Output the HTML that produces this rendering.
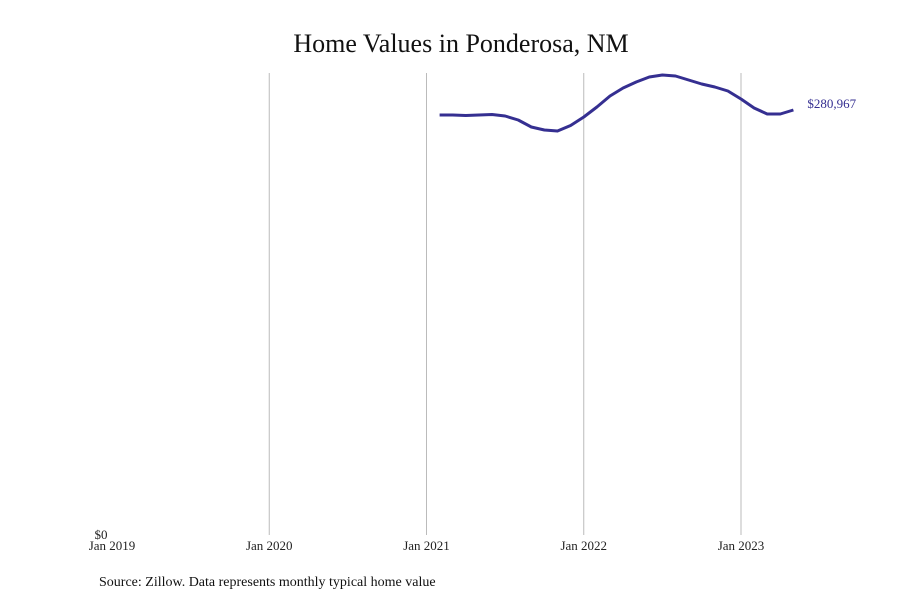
<!DOCTYPE html>
<html><head><meta charset="utf-8"><style>
body{margin:0;background:#fff;}
svg text{font-family:"Liberation Serif",serif;}
</style></head><body>
<svg width="900" height="600" xmlns="http://www.w3.org/2000/svg">
<text x="461" y="52" text-anchor="middle" font-size="26" fill="#111">Home Values in Ponderosa, NM</text>
<g id="grid"></g>
<g id="xticks"></g>
<text x="101" y="539" text-anchor="middle" font-size="13" fill="#222">$0</text>
<path id="line" fill="none" stroke="#352f91" stroke-width="3" stroke-linejoin="round"/>
<text id="endlabel" font-size="13" fill="#352f91"></text>
<text x="99" y="586" font-size="14" fill="#111">Source: Zillow. Data represents monthly typical home value</text>
</svg>
<script>
const tickLabels=["Jan 2019","Jan 2020","Jan 2021","Jan 2022","Jan 2023"];
const startMonth=25; // months after Jan 2019 (Feb 2021)
const values=[277662,277662,277331,277662,277993,277001,274357,269729,267746,267077,270720,276340,282951,290223,295512,299478,302784,304106,303445,300801,298156,296173,293528,288240,282290,278323,278323,280967];
const latestLabel="$280,967";
const x=m=>112+m*(741-112)/48;
const y=v=>535-v*(425/280967);
const ns="http://www.w3.org/2000/svg";
const grid=document.getElementById('grid'),xt=document.getElementById('xticks');
tickLabels.forEach((t,i)=>{
  const xx=x(i*12);
  if(i>0){const l=document.createElementNS(ns,'line');
  l.setAttribute('x1',xx);l.setAttribute('x2',xx);l.setAttribute('y1',73);l.setAttribute('y2',535);
  l.setAttribute('stroke','#bbb');l.setAttribute('stroke-width','1');
  
  
  grid.appendChild(l);}
  const tx=document.createElementNS(ns,'text');
  tx.setAttribute('x',xx);tx.setAttribute('y',550);tx.setAttribute('text-anchor','middle');
  tx.setAttribute('font-size','13');tx.setAttribute('fill','#222');tx.textContent=t;
  
  
  xt.appendChild(tx);
});
const d=values.map((v,i)=>(i?'L':'M')+x(startMonth+i).toFixed(1)+','+y(v).toFixed(1)).join(' ');
document.getElementById('line').setAttribute('d',d);
const el=document.getElementById('endlabel');
const lastI=values.length-1;
el.setAttribute('x',x(startMonth+lastI)+14);
el.setAttribute('y',y(values[lastI])-2);
el.textContent=latestLabel;
</script>
</body></html>
